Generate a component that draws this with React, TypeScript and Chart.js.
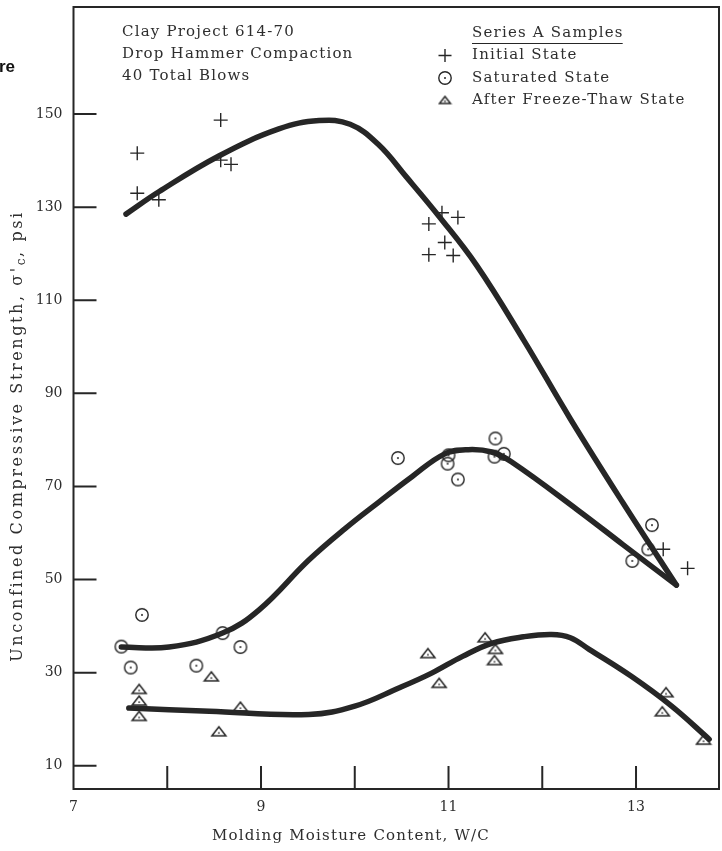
import React, { useEffect, useRef } from 'react';
import { Chart, registerables } from 'chart.js';

Chart.register(...registerables);

// ---- tick values / labels ----
const X_TICKS = [7, 8, 9, 10, 11, 12, 13];
const X_TICK_LABELS = ['7', '', '9', '', '11', '', '13'];
const Y_TICKS = [10, 30, 50, 70, 90, 110, 130, 150];
const Y_TICK_LABELS = ['10', '30', '50', '70', '90', '110', '130', '150'];

// ---- sample points ----
const INITIAL_X = [7.68, 7.68, 7.91, 8.57, 8.57, 8.68, 10.93, 11.1, 10.79, 10.96, 10.79, 11.05, 13.29, 13.55];
const INITIAL_Y = [141.6, 133.0, 131.6, 148.7, 140.1, 139.2, 128.8, 127.8, 126.4, 122.4, 119.8, 119.6, 56.5, 52.4];

const SATURATED_X = [7.73, 7.51, 7.61, 8.31, 8.59, 8.78, 10.46, 10.99, 11.0, 11.1, 11.5, 11.49, 11.59, 13.17, 13.13, 12.96];
const SATURATED_Y = [42.4, 35.6, 31.1, 31.5, 38.5, 35.5, 76.1, 74.9, 76.7, 71.5, 80.3, 76.4, 77.0, 61.7, 56.5, 54.0];

const FREEZE_X = [7.7, 7.7, 7.7, 8.47, 8.78, 8.55, 10.78, 10.9, 11.39, 11.5, 11.49, 13.32, 13.28, 13.72];
const FREEZE_Y = [26.5, 24.0, 20.7, 29.2, 22.7, 17.4, 34.2, 27.8, 37.6, 35.1, 32.7, 25.8, 21.7, 15.6];

// ---- hand-drawn fitted curves ----
const INITIAL_CURVE_X = [7.56, 7.91, 8.55, 9.19, 9.62, 9.95, 10.25, 10.55, 10.9, 11.3, 11.8, 12.3, 12.86, 13.43];
const INITIAL_CURVE_Y = [128.5, 133.3, 141.0, 146.8, 148.6, 147.8, 143.5, 136.5, 128.0, 117.5, 101.5, 84.5, 66.5, 48.8];

const SATURATED_CURVE_X = [7.51, 8.02, 8.59, 8.98, 9.51, 9.9, 10.26, 10.61, 10.96, 11.21, 11.46, 11.67, 12.38, 12.86, 13.43];
const SATURATED_CURVE_Y = [35.5, 35.5, 38.5, 43.5, 54.2, 61.0, 66.7, 72.1, 77.0, 77.9, 77.4, 75.3, 64.9, 57.5, 48.8];

const FREEZE_CURVE_X = [7.59, 8.45, 9.51, 10.0, 10.47, 10.82, 11.15, 11.46, 11.8, 12.1, 12.3, 12.5, 12.95, 13.38, 13.78];
const FREEZE_CURVE_Y = [22.4, 21.7, 21.0, 22.8, 26.7, 29.9, 33.5, 36.3, 37.7, 38.2, 37.5, 35.0, 29.2, 22.8, 15.7];

// ---- texts ----
const INFO_LINES = ['Clay Project 614-70', 'Drop Hammer Compaction', '40 Total Blows'];
const LEGEND_TITLE = 'Series A Samples';
const SERIES_NAMES = ['Initial State', 'Saturated State', 'After Freeze-Thaw State'];
const X_TITLE = 'Molding Moisture Content, W/C';
const Y_TITLE_MAIN = "Unconfined Compressive Strength, \u03C3'";
const Y_TITLE_SUB = 'c';
const Y_TITLE_END = ', psi';
const CORNER_TEXT = 're';

const INK = '#262626';
const TEXT_INK = '#2e2e2e';
const SERIF = '"DejaVu Serif", serif';

function zip(xs: number[], ys: number[]) {
  return xs.map((x, i) => ({ x, y: ys[i] }));
}

function makeCircle(): HTMLCanvasElement {
  const c = document.createElement('canvas');
  c.width = 16; c.height = 16;
  const g = c.getContext('2d')!;
  g.strokeStyle = INK; g.lineWidth = 1.4;
  g.beginPath(); g.arc(8, 8, 6.2, 0, Math.PI * 2); g.stroke();
  g.fillStyle = INK;
  g.beginPath(); g.arc(8, 8, 1, 0, Math.PI * 2); g.fill();
  return c;
}

function makeTriangle(w: number, h: number): HTMLCanvasElement {
  const c = document.createElement('canvas');
  c.width = w + 4; c.height = h + 4;
  const g = c.getContext('2d')!;
  g.strokeStyle = INK; g.lineWidth = 1.5; g.lineJoin = 'miter';
  g.beginPath();
  g.moveTo(2, h + 2); g.lineTo(w + 2, h + 2); g.lineTo(w / 2 + 2, 2); g.closePath();
  g.stroke();
  g.fillStyle = INK;
  g.beginPath(); g.arc(w / 2 + 2, h * 0.68 + 2, 0.9, 0, Math.PI * 2); g.fill();
  return c;
}

function setFont(ctx: CanvasRenderingContext2D, font: string, spacing: string) {
  ctx.font = font;
  try { (ctx as any).letterSpacing = spacing; } catch (e) { /* ignore */ }
}

function zeroPad(s: any) {
  s.paddingTop = 0; s.paddingBottom = 0; s.paddingLeft = 0; s.paddingRight = 0;
}

export default function App() {
  const ref = useRef<HTMLCanvasElement | null>(null);

  useEffect(() => {
    document.body.style.margin = '0';
    const canvas = ref.current;
    if (!canvas) return;
    const circleImg = makeCircle();
    const triImg = makeTriangle(14, 9);
    const triLegendImg = makeTriangle(11, 7);

    const bg = {
      id: 'bg',
      beforeDraw(chart: any) {
        const ctx = chart.ctx;
        ctx.save();
        ctx.fillStyle = '#ffffff';
        ctx.fillRect(0, 0, chart.width, chart.height);
        ctx.restore();
      },
    };

    const annot = {
      id: 'annot',
      afterDraw(chart: any) {
        const ctx: CanvasRenderingContext2D = chart.ctx;
        const a = chart.chartArea;
        const sx = chart.scales.x;
        const sy = chart.scales.y;
        ctx.save();
        // frame
        ctx.strokeStyle = INK;
        ctx.lineWidth = 2;
        ctx.strokeRect(a.left, a.top, a.right - a.left, a.bottom - a.top);
        // inner tick marks
        ctx.beginPath();
        for (const v of Y_TICKS) {
          const y = sy.getPixelForValue(v);
          ctx.moveTo(a.left, y); ctx.lineTo(a.left + 23, y);
        }
        for (const v of X_TICKS) {
          if (v === X_TICKS[0]) continue;
          const x = sx.getPixelForValue(v);
          ctx.moveTo(x, a.bottom); ctx.lineTo(x, a.bottom - 23);
        }
        ctx.stroke();

        ctx.fillStyle = TEXT_INK;
        setFont(ctx, '15px ' + SERIF, '1.2px');
        ctx.textBaseline = 'middle';
        ctx.textAlign = 'left';
        // info block
        const infoY = [32, 54.5, 76.5];
        INFO_LINES.forEach((t, i) => ctx.fillText(t, 122, infoY[i]));
        // legend
        ctx.fillText(LEGEND_TITLE, 472, 33.5);
        const tw = ctx.measureText(LEGEND_TITLE).width;
        ctx.lineWidth = 1.2;
        ctx.beginPath(); ctx.moveTo(472, 43.5); ctx.lineTo(472 + tw - 1, 43.5); ctx.stroke();
        const legY = [55.5, 78, 100];
        SERIES_NAMES.forEach((t, i) => ctx.fillText(t, 472, legY[i]));
        // legend markers
        ctx.lineWidth = 1.4;
        ctx.beginPath();
        ctx.moveTo(438.5, legY[0]); ctx.lineTo(451.5, legY[0]);
        ctx.moveTo(445, legY[0] - 6.5); ctx.lineTo(445, legY[0] + 6.5);
        ctx.stroke();
        ctx.drawImage(circleImg, 445 - 8, legY[1] - 8);
        ctx.drawImage(triLegendImg, 445 - triLegendImg.width / 2, legY[2] - triLegendImg.height / 2);

        // x title
        ctx.textAlign = 'left';
        ctx.fillText(X_TITLE, 212, 836);

        // y title (rotated)
        const mainFont = '16px ' + SERIF;
        const mainSp = '2.6px';
        const subFont = '12px ' + SERIF;
        ctx.save();
        ctx.translate(18, 0);
        ctx.rotate(-Math.PI / 2);
        setFont(ctx, mainFont, mainSp);
        const w1 = ctx.measureText(Y_TITLE_MAIN).width;
        const w3 = ctx.measureText(Y_TITLE_END).width;
        setFont(ctx, subFont, '1.5px');
        const w2 = ctx.measureText(Y_TITLE_SUB).width;
        const total = w1 + w2 + w3;
        const centerY = 436;
        let tx = -(centerY + total / 2);
        setFont(ctx, mainFont, mainSp);
        ctx.fillText(Y_TITLE_MAIN, tx, 0);
        tx += w1;
        setFont(ctx, subFont, '1.5px');
        ctx.fillText(Y_TITLE_SUB, tx, 4);
        tx += w2;
        setFont(ctx, mainFont, mainSp);
        ctx.fillText(Y_TITLE_END, tx, 0);
        ctx.restore();

        // corner fragment
        setFont(ctx, 'bold 17px "Liberation Sans", Arial, sans-serif', '0px');
        ctx.fillStyle = '#111';
        ctx.fillText(CORNER_TEXT, -1, 67);
        ctx.restore();
      },
    };

    const curveStyle = {
      showLine: true,
      pointRadius: 0,
      borderColor: INK,
      borderWidth: 5.5,
      borderCapStyle: 'round' as const,
      borderJoinStyle: 'round' as const,
      tension: 0.4,
      fill: false,
      order: 0,
    };

    const chart = new Chart(canvas, {
      type: 'scatter',
      data: {
        datasets: [
          { label: 'Initial curve', data: zip(INITIAL_CURVE_X, INITIAL_CURVE_Y), ...curveStyle },
          { label: 'Saturated curve', data: zip(SATURATED_CURVE_X, SATURATED_CURVE_Y), ...curveStyle },
          { label: 'Freeze curve', data: zip(FREEZE_CURVE_X, FREEZE_CURVE_Y), ...curveStyle },
          {
            label: SERIES_NAMES[0], data: zip(INITIAL_X, INITIAL_Y),
            pointStyle: 'cross', pointRadius: 7, borderColor: INK, backgroundColor: INK,
            pointBorderWidth: 1.4, order: 1,
          },
          {
            label: SERIES_NAMES[1], data: zip(SATURATED_X, SATURATED_Y),
            pointStyle: circleImg as any, pointRadius: 7, order: 1,
          },
          {
            label: SERIES_NAMES[2], data: zip(FREEZE_X, FREEZE_Y),
            pointStyle: triImg as any, pointRadius: 7, order: 1,
          },
        ] as any,
      },
      options: {
        animation: false,
        responsive: false,
        events: [],
        layout: { autoPadding: false, padding: { left: 0, top: 7, right: 3, bottom: 0 } },
        plugins: { legend: { display: false }, tooltip: { enabled: false }, title: { display: false } },
        scales: {
          x: {
            type: 'linear', min: 7, max: 13.885,
            grid: { display: false, drawTicks: false },
            border: { display: false },
            afterBuildTicks: (s: any) => { s.ticks = X_TICKS.map((v) => ({ value: v })); },
            afterFit: (s: any) => { s.height = 62; zeroPad(s); },
            ticks: {
              autoSkip: false, maxRotation: 0, padding: 10, color: TEXT_INK,
              font: { family: SERIF, size: 14 },
              callback: (_v: any, i: number) => X_TICK_LABELS[i],
            },
          },
          y: {
            type: 'linear', min: 5, max: 173,
            grid: { display: false, drawTicks: false },
            border: { display: false },
            afterBuildTicks: (s: any) => { s.ticks = Y_TICKS.map((v) => ({ value: v })); },
            afterFit: (s: any) => { s.width = 73.5; zeroPad(s); },
            ticks: {
              autoSkip: false, padding: 11, color: TEXT_INK,
              font: { family: SERIF, size: 14 },
              callback: (_v: any, i: number) => Y_TICK_LABELS[i],
            },
          },
        },
      } as any,
      plugins: [bg, annot],
    });
    return () => chart.destroy();
  }, []);

  return <canvas ref={ref} width={722} height={851} style={{ display: 'block' }} />;
}
